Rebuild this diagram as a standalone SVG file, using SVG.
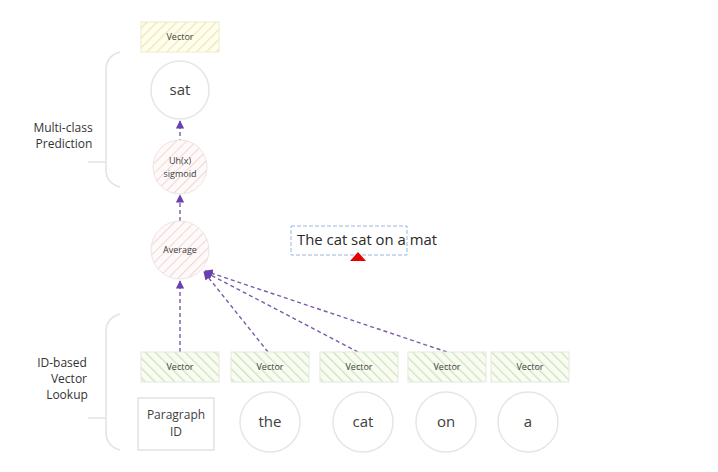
<svg xmlns="http://www.w3.org/2000/svg" width="718" height="472" viewBox="0 0 718 472">
<style>
text{font-family:"Open Sans","Liberation Sans",sans-serif;fill:#404040;text-anchor:middle}
.vec{stroke:#e4e8e0;stroke-width:1}
.circ{fill:#fff;stroke:#e6e6e6;stroke-width:1.5}
.brace{fill:none;stroke:#e2e2e6;stroke-width:1.5}
.conn{fill:none;stroke:#7a5ca8;stroke-width:1.4;stroke-dasharray:4 3}
.small{font-size:9px}
.big{font-size:15px}
.lbl{font-size:12px;fill:#333}
</style>
<defs>
<pattern id="hy" width="7" height="7" patternUnits="userSpaceOnUse" patternTransform="rotate(45)">
<rect width="7" height="7" fill="#fffdf0"/><line x1="0" y1="0" x2="0" y2="7" stroke="#ece9a8" stroke-width="2.5"/>
</pattern>
<pattern id="hg" width="7" height="7" patternUnits="userSpaceOnUse" patternTransform="rotate(-45)">
<rect width="7" height="7" fill="#f8fcf2"/><line x1="0" y1="0" x2="0" y2="7" stroke="#cfe3b8" stroke-width="2.5"/>
</pattern>
<pattern id="hp" width="7" height="7" patternUnits="userSpaceOnUse" patternTransform="rotate(45)">
<rect width="7" height="7" fill="#fffafa"/><line x1="0" y1="0" x2="0" y2="7" stroke="#f3d6d6" stroke-width="2.2"/>
</pattern>
<marker id="ah" viewBox="0 0 10 10" refX="9" refY="5" markerWidth="6" markerHeight="6" orient="auto">
<path d="M0,0 L10,5 L0,10 z" fill="#6a3fb0"/>
</marker>
</defs>

<g id="braces">
<path class="brace" d="M120,52 Q106,56 106,70 L106,170 Q106,183 120,187"/>
<line class="brace" x1="88" y1="162" x2="106" y2="162"/>
<path class="brace" d="M120,314 Q106,318 106,332 L106,432 Q106,446 120,450"/>
<line class="brace" x1="88" y1="418" x2="106" y2="418"/>
</g>
<g id="label-multiclass"><text class="lbl" x="63" y="132">Multi-class</text><text class="lbl" x="64" y="148">Prediction</text></g>
<g id="label-idbased"><text class="lbl" x="62" y="367">ID-based</text><text class="lbl" x="69" y="383">Vector</text><text class="lbl" x="67" y="399">Lookup</text></g>

<g id="connectors">
<line class="conn" x1="180" y1="150" x2="180" y2="121" marker-end="url(#ah)"/>
<line class="conn" x1="180" y1="221" x2="180" y2="195" marker-end="url(#ah)"/>
<line class="conn" x1="180" y1="352" x2="180" y2="281" marker-end="url(#ah)"/>
<line class="conn" x1="268" y1="352" x2="204" y2="272" marker-end="url(#ah)"/>
<line class="conn" x1="358" y1="352" x2="205" y2="272" marker-end="url(#ah)"/>
<line class="conn" x1="447" y1="352" x2="205" y2="271" marker-end="url(#ah)"/>
</g>

<g id="vector-top"><rect x="141" y="22" width="78" height="30" fill="url(#hy)" stroke="#eeeccc"/><text class="small" x="180" y="40">Vector</text></g>
<g id="sat"><circle class="circ" cx="180" cy="90" r="29"/><text class="big" x="180" y="95">sat</text></g>
<g id="sigmoid"><circle cx="180" cy="167" r="27" fill="url(#hp)" stroke="#ece4e4"/><text class="small" x="180" y="164">Uh(x)</text><text class="small" x="180" y="177">sigmoid</text></g>
<g id="average"><circle cx="180" cy="250" r="29" fill="url(#hp)" stroke="#ece4e4"/><text class="small" x="180" y="253">Average</text></g>

<g id="sentence">
<rect x="291" y="226" width="116" height="29" fill="none" stroke="#9bb6d8" stroke-width="1" stroke-dasharray="4 2"/>
<text x="297" y="245" textLength="140" lengthAdjust="spacingAndGlyphs" style="font-size:15px;fill:#2a2a2a;text-anchor:start">The cat sat on a mat</text>
<path d="M350,261 L358,252 L366,261 z" fill="#e60000"/>
</g>

<g id="vector1"><rect class="vec" x="141" y="352" width="78" height="30" fill="url(#hg)"/><text class="small" x="180" y="370">Vector</text></g>
<g id="vector2"><rect class="vec" x="231" y="352" width="78" height="30" fill="url(#hg)"/><text class="small" x="270" y="370">Vector</text></g>
<g id="vector3"><rect class="vec" x="320" y="352" width="78" height="30" fill="url(#hg)"/><text class="small" x="359" y="370">Vector</text></g>
<g id="vector4"><rect class="vec" x="408" y="352" width="78" height="30" fill="url(#hg)"/><text class="small" x="447" y="370">Vector</text></g>
<g id="vector5"><rect class="vec" x="491" y="352" width="78" height="30" fill="url(#hg)"/><text class="small" x="530" y="370">Vector</text></g>

<g id="paragraph-id"><rect x="138" y="398" width="76" height="52" fill="#fff" stroke="#e2e2e2" stroke-width="1.5"/><text x="176" y="419" style="font-size:12px">Paragraph</text><text x="176" y="436" style="font-size:12px">ID</text></g>
<g id="the"><circle class="circ" cx="270" cy="422" r="30"/><text class="big" x="270" y="427">the</text></g>
<g id="cat"><circle class="circ" cx="363" cy="422" r="30"/><text class="big" x="363" y="427">cat</text></g>
<g id="on"><circle class="circ" cx="446" cy="422" r="30"/><text class="big" x="446" y="427">on</text></g>
<g id="a"><circle class="circ" cx="528" cy="422" r="30"/><text class="big" x="528" y="427">a</text></g>
</svg>
